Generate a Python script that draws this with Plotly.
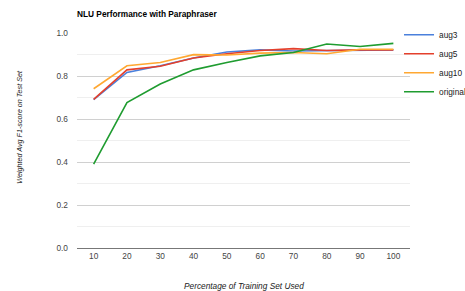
import plotly.graph_objects as go

categories = ["10", "20", "30", "40", "50", "60", "70", "80", "90", "100"]
aug3 = [0.690, 0.817, 0.848, 0.884, 0.912, 0.922, 0.917, 0.919, 0.922, 0.922]
aug5 = [0.692, 0.829, 0.846, 0.884, 0.904, 0.919, 0.928, 0.919, 0.922, 0.922]
aug10 = [0.741, 0.848, 0.863, 0.900, 0.898, 0.907, 0.910, 0.904, 0.925, 0.925]
original = [0.390, 0.677, 0.763, 0.829, 0.863, 0.894, 0.910, 0.949, 0.938, 0.952]
y_ticks = [0.0, 0.2, 0.4, 0.6, 0.8, 1.0]

series = [
    ("aug3", aug3, "#4a80dc"),
    ("aug5", aug5, "#e4402c"),
    ("aug10", aug10, "#ffa832"),
    ("original", original, "#1f9c30"),
]

FONT = "Arial, Liberation Sans, sans-serif"

fig = go.Figure()
for name, vals, color in series:
    fig.add_trace(go.Scatter(x=categories, y=vals, name=name, mode="lines",
                             line=dict(color=color, width=1.6)))

fig.update_layout(
    width=465, height=291,
    margin=dict(l=77, r=55, t=33, b=43, autoexpand=False),
    paper_bgcolor="white", plot_bgcolor="white",
    font=dict(family=FONT, size=8.3, color="#444"),
    title=dict(text="<b>NLU Performance with Paraphraser</b>",
               x=77/465, xanchor="left", y=1-14.5/291, yanchor="middle",
               font=dict(family=FONT, size=8.3, color="#000")),
    legend=dict(x=0.967, xanchor="left", y=1.059, yanchor="top",
                bgcolor="rgba(0,0,0,0)", font=dict(size=8.3, color="#222"),
                tracegroupgap=0),
    showlegend=True,
)
fig.update_xaxes(type="category", range=[-0.5, 9.5], showgrid=False,
                 showline=True, linecolor="#777", linewidth=1, ticks="",
                 tickfont=dict(size=8.3, color="#444"), fixedrange=True)
fig.update_yaxes(range=[0, 1.0005], tickvals=y_ticks, tickformat=".1f",
                 showgrid=True, gridcolor="#d0d0d0", gridwidth=1,
                 minor=dict(dtick=0.1, showgrid=True, gridcolor="#efefef"),
                 zeroline=False, showline=False, ticks="", ticklabelstandoff=8,
                 tickfont=dict(size=8.3, color="#444"))
fig.add_annotation(text="<i>Percentage of Training Set Used</i>",
                   xref="paper", yref="paper", x=0.5, y=(248.3-286.5)/215,
                   xanchor="center", yanchor="middle", showarrow=False,
                   font=dict(size=8.3, color="#222"))
fig.add_annotation(text="<i>Weighted Avg F1-score on Test Set</i>",
                   xref="paper", yref="paper", x=(20-77)/333, y=(248.3-127)/215,
                   xanchor="center", yanchor="middle", textangle=-90, showarrow=False,
                   font=dict(size=7.2, color="#222"))

fig.write_html("out.html", config={"displayModeBar": False},
               post_script="document.body.style.margin='0';")
